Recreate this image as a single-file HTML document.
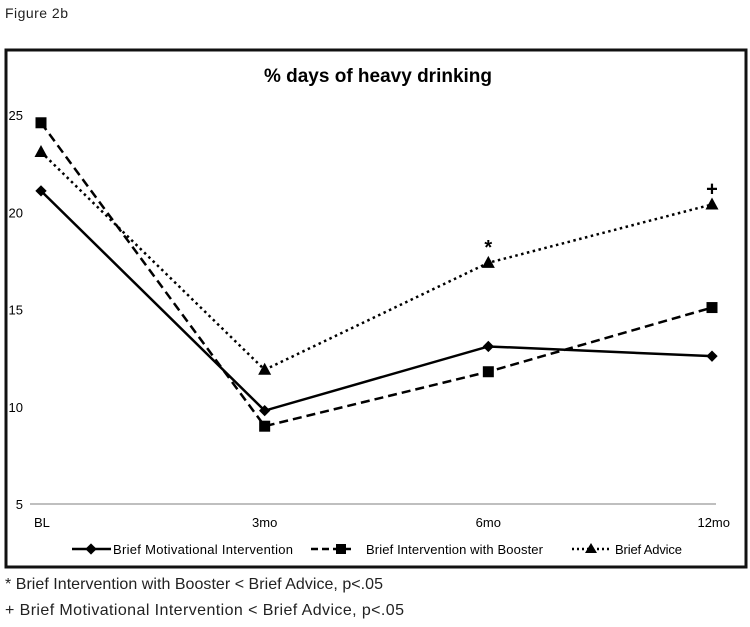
<!DOCTYPE html>
<html><head><meta charset="utf-8"><style>
body{margin:0;background:#fff;width:750px;height:622px;overflow:hidden;font-family:"Liberation Sans",sans-serif;}
</style></head><body>
<svg id="chart" width="750" height="622" xmlns="http://www.w3.org/2000/svg">
<text x="5" y="18" font-size="14" fill="#222" textLength="63">Figure 2b</text>
<rect x="6" y="50" width="740" height="517" fill="#fff" stroke="#111" stroke-width="3"/>
<text x="378" y="82" font-size="19" font-weight="bold" text-anchor="middle">% days of heavy drinking</text>
<g id="axes"></g><g id="series"></g>
<g>
<line x1="72" y1="549" x2="111" y2="549" stroke="#000" stroke-width="2.5"/>
<rect x="87" y="545" width="8" height="8" transform="rotate(45 91 549)" fill="#000"/>
<text x="113" y="554" font-size="13" textLength="180">Brief Motivational Intervention</text>
<line x1="311" y1="549" x2="355" y2="549" stroke="#000" stroke-width="2.5" stroke-dasharray="7,4"/>
<rect x="336" y="544" width="10" height="10" fill="#000"/>
<text x="366" y="554" font-size="13" textLength="177">Brief Intervention with Booster</text>
<line x1="572" y1="549" x2="610" y2="549" stroke="#000" stroke-width="2.5" stroke-dasharray="2,3"/>
<polygon points="591,543 597,553 585,553" fill="#000"/>
<text x="615" y="554" font-size="13" textLength="67">Brief Advice</text>
</g>
<text x="5" y="589" font-size="16" fill="#222" textLength="378">* Brief Intervention with Booster &lt; Brief Advice, p&lt;.05</text>
<text x="5" y="615" font-size="16" fill="#222" textLength="399">+ Brief Motivational Intervention &lt; Brief Advice, p&lt;.05</text>
</svg>
<script>
const categories=["BL","3mo","6mo","12mo"];
const yTicks=[5,10,15,20,25];
const bmi=[21.1,9.8,13.1,12.6];
const booster=[24.6,9.0,11.8,15.1];
const advice=[23.1,11.9,17.4,20.4];
const annotations=[{i:2,t:"*"},{i:3,t:"+"}];
const NS="http://www.w3.org/2000/svg";
function xs(i){return 41+i*(712-41)/(categories.length-1);}
function ys(v){return 504-(v-5)*(504-115)/20;}
function mk(tag,at,parent){const e=document.createElementNS(NS,tag);for(const k in at)e.setAttribute(k,at[k]);parent.appendChild(e);return e;}
const axes=document.getElementById("axes"),ser=document.getElementById("series");
const base=mk("line",{x1:30,x2:716,y1:ys(5),y2:ys(5),stroke:"#aaa","stroke-width":1.5},axes);


yTicks.forEach(v=>{const t=mk("text",{x:23,y:ys(v)+5,"font-size":13,"text-anchor":"end"},axes);t.textContent=v;

});
categories.forEach((c,i)=>{let anchor=i==0?"start":(i==categories.length-1?"end":"middle");let x=i==0?34:(i==categories.length-1?730:xs(i));
const t=mk("text",{x:x,y:527,"font-size":13,"text-anchor":anchor},axes);t.textContent=c;

});
function series(vals,dash,marker,name){
const g=mk("g",{},ser);


const pts=vals.map((v,i)=>xs(i)+","+ys(v)).join(" ");
mk("polyline",{points:pts,fill:"none",stroke:"#000","stroke-width":2.5,"stroke-dasharray":dash},g);
vals.forEach((v,i)=>{const x=xs(i),y=ys(v);let m;
if(marker=="d")m=mk("rect",{x:x-4,y:y-4,width:8,height:8,transform:`rotate(45 ${x} ${y})`},g);
else if(marker=="s")m=mk("rect",{x:x-5.5,y:y-5.5,width:11,height:11},g);
else m=mk("polygon",{points:`${x},${y-7} ${x+6.5},${y+5} ${x-6.5},${y+5}`},g);

});}
series(bmi,"none","d","series-bmi");
series(booster,"9,5","s","series-booster");
series(advice,"2.5,3.5","t","series-advice");
annotations.forEach(a=>{const t=mk("text",{x:xs(a.i),y:ys(advice[a.i])-9,"font-size":20,"font-weight":"bold","text-anchor":"middle"},ser);t.textContent=a.t;

});
</script>
</body></html>
